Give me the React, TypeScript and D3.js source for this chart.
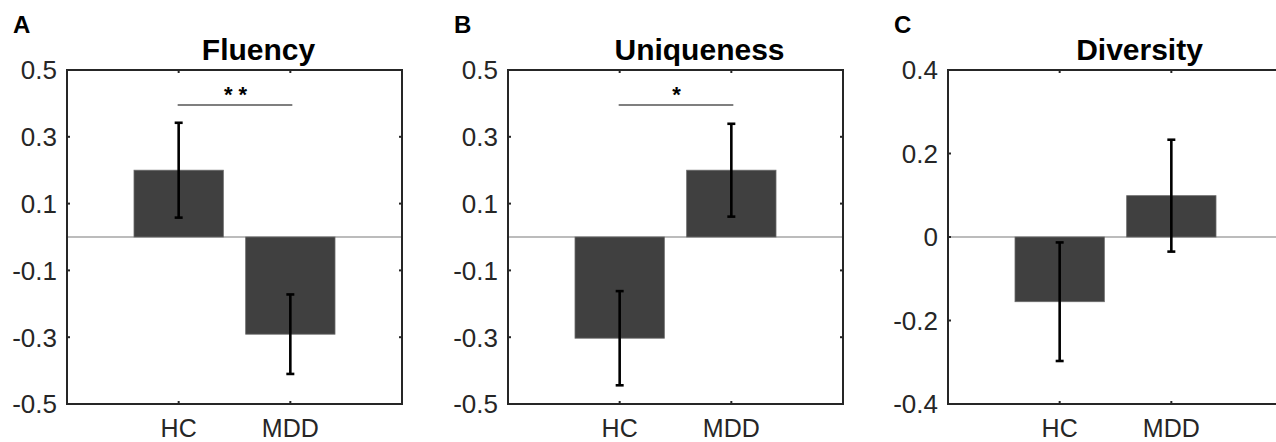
import * as d3 from "d3";

const groups = ["HC", "MDD"];
const panelLetters = ["A", "B", "C"];
const panelTitles = ["Fluency", "Uniqueness", "Diversity"];
const fluencyMeans = [0.2, -0.291];
const fluencyErrs = [0.142, 0.119];
const uniquenessMeans = [-0.303, 0.2];
const uniquenessErrs = [0.141, 0.139];
const diversityMeans = [-0.155, 0.099];
const diversityErrs = [0.142, 0.134];
const fluencyTicks = [0.5, 0.3, 0.1, -0.1, -0.3, -0.5];
const uniquenessTicks = [0.5, 0.3, 0.1, -0.1, -0.3, -0.5];
const diversityTicks = [0.4, 0.2, 0, -0.2, -0.4];
const sigStars = ["* *", "*", ""];

const W = 1276;
const H = 442;
const FONT = "'Liberation Sans', Arial, Helvetica, sans-serif";
const AX = "#262626";

const panels = [
  { means: fluencyMeans, errs: fluencyErrs, ticks: fluencyTicks, left: 67 },
  { means: uniquenessMeans, errs: uniquenessErrs, ticks: uniquenessTicks, left: 508 },
  { means: diversityMeans, errs: diversityErrs, ticks: diversityTicks, left: 948 },
];

const fmt = (v: number) => (v === 0 ? "0" : String(v));

function Panel({ idx }: { idx: number }) {
  const p = panels[idx];
  const top = 70;
  const bottom = 404;
  const width = 335;
  const lo = d3.min(p.ticks)!;
  const hi = d3.max(p.ticks)!;

  const x = d3.scaleLinear().domain([0, 3]).range([p.left, p.left + width]);
  const y = d3.scaleLinear().domain([lo, hi]).range([bottom, top]);
  const bw = x(1.8) - x(1);
  const right = p.left + width;
  const tickLen = 3;

  return (
    <g>
      <text x={p.left - 54} y={33} fontFamily={FONT} fontWeight="bold" fontSize={24} fill="#000">
        {panelLetters[idx]}
      </text>
      <text x={p.left + width / 2 + 24} y={60} textAnchor="middle" fontFamily={FONT} fontWeight="bold" fontSize={30} fill="#000">
        {panelTitles[idx]}
      </text>

      {/* zero line */}
      <line x1={p.left} x2={Math.min(right, W)} y1={y(0)} y2={y(0)} stroke="#7a7a7a" strokeWidth={1.2} />

      {/* bars */}
      {groups.map((g, i) => {
        const v = p.means[i];
        return (
          <rect
            key={g}
            x={x(i + 1) - bw / 2}
            width={bw}
            y={Math.min(y(v), y(0))}
            height={Math.abs(y(v) - y(0))}
            fill="#404040"
            stroke="#6a6a6a"
            strokeWidth={0.8}
          />
        );
      })}

      {/* error bars */}
      {groups.map((g, i) => {
        const cx = x(i + 1);
        const y1 = y(p.means[i] + p.errs[i]);
        const y2 = y(p.means[i] - p.errs[i]);
        return (
          <g key={g} stroke="#000" strokeWidth={2.6}>
            <line x1={cx} x2={cx} y1={y1} y2={y2} />
            <line x1={cx - 4} x2={cx + 4} y1={y1} y2={y1} />
            <line x1={cx - 4} x2={cx + 4} y1={y2} y2={y2} />
          </g>
        );
      })}

      {/* significance */}
      {sigStars[idx] && (
        <g>
          <line x1={x(1) - 1} x2={x(2) + 2} y1={105} y2={105} stroke="#000" strokeWidth={1.2} />
          <text x={(x(1) + x(2)) / 2 + 1} y={102} textAnchor="middle" fontFamily={FONT} fontWeight="bold" fontSize={22} fill="#000">
            {sigStars[idx]}
          </text>
        </g>
      )}

      {/* box */}
      <rect x={p.left} y={top} width={width} height={bottom - top} fill="none" stroke={AX} strokeWidth={2} />

      {/* y ticks */}
      {p.ticks.map((t) => (
        <g key={t}>
          <line x1={p.left} x2={p.left + tickLen} y1={y(t)} y2={y(t)} stroke={AX} strokeWidth={2} />
          <line x1={right} x2={right - tickLen} y1={y(t)} y2={y(t)} stroke={AX} strokeWidth={2} />
          <text x={p.left - 10} y={y(t)} dy="0.36em" textAnchor="end" fontFamily={FONT} fontSize={26} fill={AX}>
            {fmt(t)}
          </text>
        </g>
      ))}

      {/* x ticks */}
      {groups.map((g, i) => (
        <g key={g}>
          <line x1={x(i + 1)} x2={x(i + 1)} y1={bottom} y2={bottom - tickLen} stroke={AX} strokeWidth={2} />
          <line x1={x(i + 1)} x2={x(i + 1)} y1={top} y2={top + tickLen} stroke={AX} strokeWidth={2} />
          <text x={x(i + 1)} y={437} textAnchor="middle" fontFamily={FONT} fontSize={25} fill={AX}>
            {g}
          </text>
        </g>
      ))}
    </g>
  );
}

export default function App() {
  return (
    <svg
      width={W}
      height={H}
      style={{ position: "absolute", left: 0, top: 0, background: "#fff" }}
    >
      <rect width={W} height={H} fill="#fff" />
      {panels.map((_, i) => (
        <Panel key={i} idx={i} />
      ))}
    </svg>
  );
}
